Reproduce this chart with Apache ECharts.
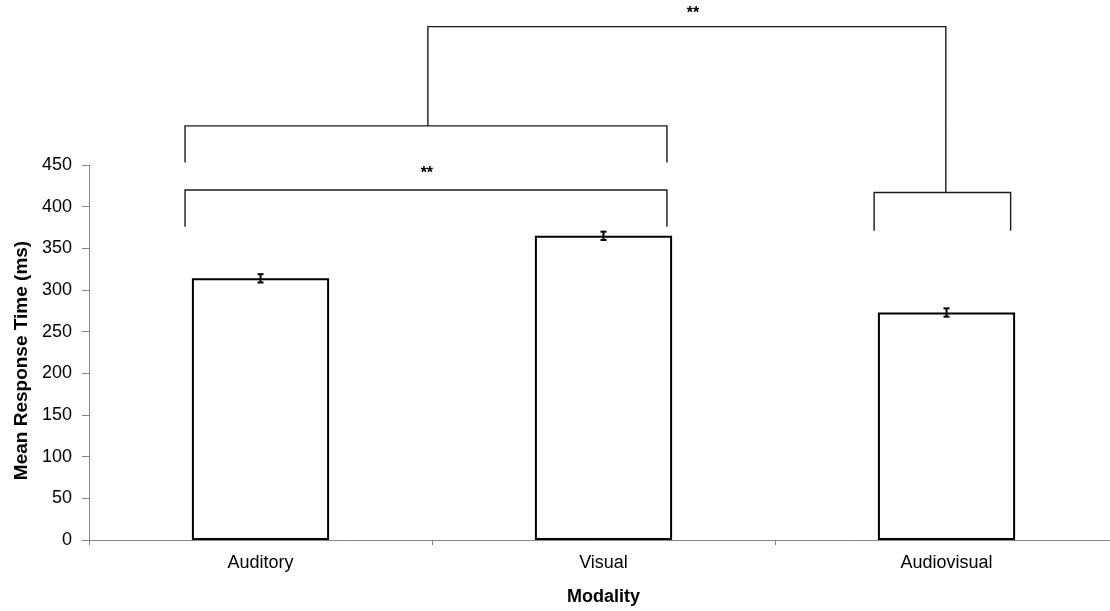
<!DOCTYPE html>
<html><head><meta charset="utf-8">
<script src="https://cdn.jsdelivr.net/npm/echarts@6/dist/echarts.min.js"></script>
<style>html,body{margin:0;padding:0;background:#fff}#c{width:1110px;height:611px}</style>
</head><body><div id="c"></div>
<script>
// ---- data ----
const categories = ['Auditory', 'Visual', 'Audiovisual'];
const meanRT = [314, 365, 273];
const errRT = [5, 5, 5];
const yMin = 0, yMax = 450, yStep = 50;
// significance brackets: polylines, x in category units (0..3), y in ms
const bracketLines = [
  [[0.28, 376], [0.28, 420], [1.685, 420], [1.685, 376]],
  [[0.28, 453], [0.28, 497], [1.685, 497], [1.685, 453]],
  [[0.988, 497], [0.988, 616], [2.498, 616], [2.498, 417]],
  [[2.289, 371], [2.289, 417], [2.687, 417], [2.687, 371]]
];
const sigX = [0.985, 1.761];
const sigY = [440, 632];
const sigText = ['**', '**'];

const FONT = '"Liberation Sans", Arial, sans-serif';
const chart = echarts.init(document.getElementById('c'), null, {renderer: 'canvas'});
chart.setOption({
  animation: false,
  backgroundColor: '#fff',
  grid: {left: 89, width: 1029, top: 165, bottom: 71, containLabel: false, outerBoundsMode: 'none'},
  xAxis: [{
    type: 'category', data: categories, boundaryGap: true,
    axisLine: {lineStyle: {color: '#868686', width: 1}},
    axisTick: {show: true, length: 5, lineStyle: {color: '#868686'}},
    axisLabel: {color: '#000', fontSize: 18, fontFamily: FONT, margin: 14},
    name: 'Modality', nameLocation: 'middle', nameGap: 48,
    nameTextStyle: {color: '#000', fontSize: 18, fontWeight: 'bold', fontFamily: FONT}
  }, {
    type: 'value', min: 0, max: 3, show: false
  }],
  yAxis: {
    type: 'value', min: yMin, max: yMax, interval: yStep,
    splitLine: {show: false},
    axisLine: {show: true, lineStyle: {color: '#868686', width: 1}},
    axisTick: {show: true, length: 7, lineStyle: {color: '#868686'}},
    axisLabel: {color: '#000', fontSize: 18, fontFamily: FONT, margin: 17},
    name: 'Mean Response Time (ms)', nameLocation: 'middle', nameGap: 56,
    nameTextStyle: {color: '#000', fontSize: 19, fontWeight: 'bold', fontFamily: FONT, padding: [0, 16, 0, 0]}
  },
  series: [{
    type: 'bar', data: meanRT, barWidth: '40%', xAxisIndex: 0,
    itemStyle: {color: '#fff', borderColor: '#000', borderWidth: 2},
    z: 2
  }, {
    type: 'custom', xAxisIndex: 0, z: 5,
    data: meanRT.map((v, i) => [i, v, errRT[i]]),
    renderItem: function (params, api) {
      const i = api.value(0), m = api.value(1), e = api.value(2);
      const hi = api.coord([i, m + e]);
      const lo = api.coord([i, m - e]);
      const x = hi[0], w = 3;
      const ls = {stroke: '#000', lineWidth: 2};
      return {type: 'group', children: [
        {type: 'line', shape: {x1: x, y1: hi[1], x2: x, y2: lo[1]}, style: ls},
        {type: 'line', shape: {x1: x - w, y1: hi[1], x2: x + w, y2: hi[1]}, style: ls},
        {type: 'line', shape: {x1: x - w, y1: lo[1], x2: x + w, y2: lo[1]}, style: ls}
      ]};
    }
  }, {
    type: 'custom', xAxisIndex: 1, clip: false, z: 4,
    data: bracketLines.map((b, i) => [i]),
    renderItem: function (params, api) {
      const pts = bracketLines[params.dataIndex].map(p => api.coord(p));
      return {type: 'polyline', shape: {points: pts},
        style: {stroke: '#1a1a1a', lineWidth: 1.4, fill: null}};
    }
  }, {
    type: 'custom', xAxisIndex: 1, clip: false, z: 4,
    data: sigX.map((x, i) => [x, sigY[i]]),
    renderItem: function (params, api) {
      const p = api.coord([api.value(0), api.value(1)]);
      return {type: 'text', x: p[0], y: p[1],
        style: {text: sigText[params.dataIndex], fill: '#000', align: 'center', verticalAlign: 'middle',
          font: 'bold 16px ' + FONT}};
    }
  }]
});
</script></body></html>
